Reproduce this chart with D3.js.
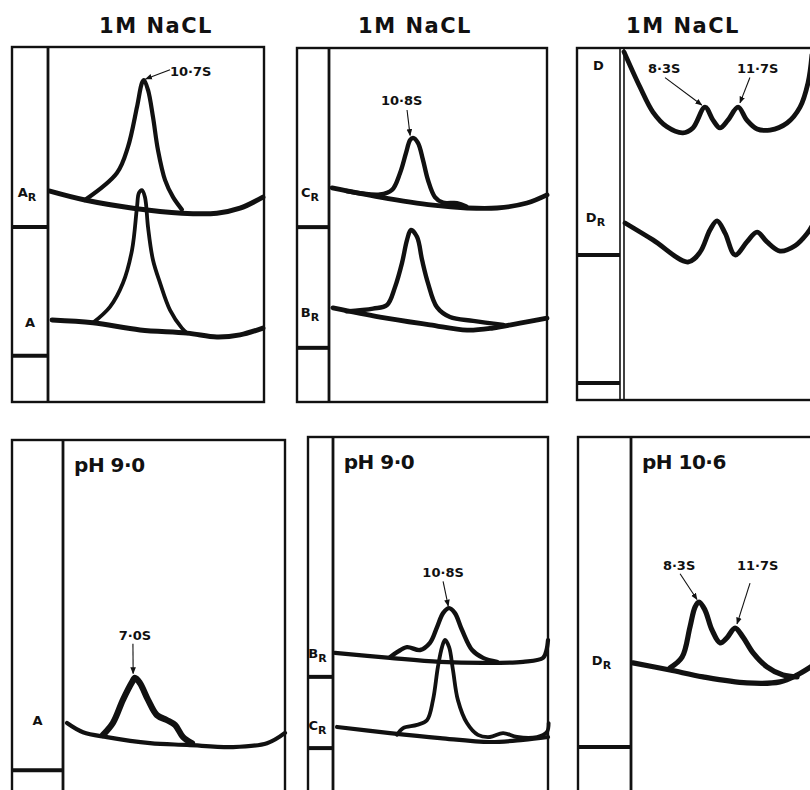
<!DOCTYPE html>
<html>
<head>
<meta charset="utf-8">
<script src="https://cdn.jsdelivr.net/npm/d3@7"></script>
<style>
  body { margin: 0; background: #fff; }
  svg { display: block; }
  text { font-family: "DejaVu Sans", sans-serif; font-weight: bold; fill: #111; }
</style>
</head>
<body>
<script>
// sedimentation patterns, x = % along the cell, y = % of frame height

const topTitles = ['1M NaCL', '1M NaCL', '1M NaCL']
const topTitleX = [156, 415, 683]
const bottomTitles = ['pH 9·0', 'pH 9·0', 'pH 10·6']

// panel 1 : A_R and A
const p1BaseAR = [[0.9,59.4],[17.1,56.9],[39.4,54.6],[62,53.2],[78.2,53.2],[88.9,54.6],[99.5,57.7]]
const p1PeakAR = [[17.1,56.9],[31.9,64.5],[37,71.8],[41.2,83.1],[43.5,89.9],[44.4,90.7],[46.3,87.9],[48.6,80.3],[50.9,71],[54.2,62.5],[57.9,57.7],[62,54.2]]
const p1BaseA = [[1.9,23.1],[20.8,22.3],[42.6,20.3],[64.4,19.4],[78.2,18.3],[88.9,18.9],[99.5,20.8]]
const p1PeakA = [[20.8,22.3],[28.7,26.8],[34.7,33.5],[38.9,42.8],[41.2,54.9],[42.1,58.9],[43.5,59.7],[44.9,57.7],[46.3,49.3],[48.6,40],[51.9,33.5],[56.5,25.9],[62,20.8],[64.4,19.4]]

// panel 2 : C_R and B_R
const p2BaseCR = [[1.4,60.5],[23.4,57.9],[47.7,55.6],[63.3,54.8],[77.1,54.8],[90.8,56.2],[100,58.5]]
const p2PeakCR = [[8,59.6],[23.4,58.6],[28.9,59.9],[32.6,64.7],[35.3,70.3],[37.2,74],[38.5,74.6],[40.8,73.2],[43.1,68.4],[45.4,62.7],[48.6,57.9],[52.3,56.3],[58.7,56.2],[63,55.2]]
const p2BaseBR = [[1.8,26.6],[23.4,24],[46.3,21.8],[63.3,20.3],[75.2,20.9],[87.6,22.3],[100,23.7]]
const p2PeakBR = [[8,25.6],[20.2,26.4],[26.6,27.4],[30.3,32.5],[33.5,39.3],[35.8,45.8],[37.6,48.6],[40.4,46.6],[42.7,40.1],[45.4,33.6],[49.5,26.8],[55.5,24],[66.1,22.9],[80,21.8]]

// panel 3 : D and D_R
const p3CurveD = [[0,98.9],[7.4,88.9],[13.4,81.8],[19.9,77.6],[27.3,75.9],[31.9,77.3],[37.5,83.2],[41.2,79.5],[44.4,77.3],[48.1,79.5],[52.8,83.2],[56.9,79.5],[61.6,77],[67.6,76.7],[75.5,78.7],[81.5,83.2],[85.2,90.1],[87,98]]
const p3CurveDR = [[0.5,50.3],[13.4,45.5],[29.6,39.2],[35.2,42],[39.8,48.3],[43.1,50.9],[46.8,47.4],[51.4,41.2],[56.9,44.9],[61.6,47.7],[66.2,44.9],[72.2,42.3],[79.2,43.8],[84.7,47.2],[87,49.4]]

// panel 4 : A at pH 9.0
const p4BaseA = [[1.8,20.3],[9,17.7],[19.8,16.3],[39.2,14.6],[55.9,14.1],[76.6,13.5],[91.9,14.6],[100,17.5]]
const p4PeakA = [[18,16.9],[22.5,20.3],[27,26.8],[31.1,31.8],[32.4,33],[34.7,31.5],[38.3,26.8],[42.3,22.5],[46.8,21.1],[50.5,19.7],[54.1,16.3],[58.1,14.6]]

// panel 5 : B_R and C_R at pH 9.0
const p5BaseBR = [[0.9,39.7],[26.5,38.3],[49.8,37.2],[69.8,36.9],[88.4,37.2],[97.7,38.3],[99.3,40.5],[100,43.3]]
const p5PeakBR = [[26.5,38.5],[29.8,39.9],[34.4,41.3],[40.5,40.5],[45.1,42.5],[48.4,46.9],[51.2,50.8],[54,52.2],[56.7,50.8],[60,46.1],[64.7,40.5],[69.8,38.3],[76.3,37.2]]
const p5BaseCR = [[1.9,19],[26.5,17.3],[49.8,15.9],[73,14.8],[88.4,15.4],[100,16.2]]
const p5PeakCR = [[29.8,16.8],[32.6,18.7],[39.1,19.6],[43.7,20.9],[46.5,26.5],[48.8,35.8],[50.7,41.3],[52.1,43.3],[54,41.3],[55.8,34.9],[58.1,26.5],[62.3,20.1],[67.4,16.8],[73,16.2],[79.1,17.3],[85.6,16.2],[94.9,16.2],[99.5,17.6],[100.3,20.1]]

// panel 6 : D_R at pH 10.6
const p6BaseDR = [[0.9,36.9],[17.7,34.9],[32.7,33],[52.7,31.3],[67.7,31.6],[75.5,33.5],[82.3,36]]
const p6PeakDR = [[17.7,35.5],[23.2,38.5],[26.8,46.9],[29.1,52.5],[30.9,53.9],[33.6,51.7],[36.8,46.1],[40.5,42.5],[43.6,43.9],[47.3,46.6],[50.9,44.1],[55.5,39.7],[61.8,35.8],[69.1,33.5],[75.5,33]]

// cell labels in the side strip: [panel, main, sub, y]
const cellLabels = [
  [0,'A','R',57.7],[0,'A','',21.1],
  [1,'C','R',57.9],[1,'B','R',24],
  [2,'D','',93.8],[2,'D','R',50.6],
  [3,'A','',19.7],
  [4,'B','R',38.3],[4,'C','R',18.2],
  [5,'D','R',36.3]
]
// strip bars (y positions of the reference marks)
const stripBars = [[0,49.3],[0,13],[1,49.4],[1,15.3],[2,41.2],[2,4.8],[3,7],[4,33],[4,13.1],[5,13.4]]

// peak annotations: [panel, text, textX, textY, fromX, fromY, toX, toY]
const peakNotes = [
  [0,'10·7S',56.5,91.8,56.5,93.6,45.2,91],
  [1,'10·8S',33.3,83.9,35.8,82.5,37.2,75.3],
  [2,'8·3S',11.1,92.9,19,91.6,36,83.8],
  [2,'11·7S',52.3,92.9,58.3,91.6,53.7,84.4],
  [3,'7·0S',32.4,43.7,31.5,42.6,31.6,34.2],
  [4,'10·8S',51.2,60.9,51.2,59.7,53.6,52.8],
  [5,'8·3S',14.5,62.8,22.3,61.8,30,54.6],
  [5,'11·7S',48.2,62.8,54.1,59.2,48.2,47.8]
]

const traces = [
  [0,p1BaseAR,5],[0,p1PeakAR,4.2],[0,p1BaseA,5],[0,p1PeakA,3.8],
  [1,p2BaseCR,4.8],[1,p2PeakCR,4.4],[1,p2BaseBR,4.8],[1,p2PeakBR,4.4],
  [2,p3CurveD,4.8],[2,p3CurveDR,4.8],
  [3,p4BaseA,4.2],[3,p4PeakA,6.2],
  [4,p5BaseBR,4.2],[4,p5PeakBR,4.4],[4,p5BaseCR,4.2],[4,p5PeakCR,3.8],
  [5,p6BaseDR,5.2],[5,p6PeakDR,5.2]
]

// frame geometry
const frames = [
  {x0:12, x1:264, y0:47, y1:402, div:48, w:216},
  {x0:297, x1:547, y0:48, y1:402, div:329, w:218},
  {x0:577, x1:840, y0:48, y1:400, div:624, w:216, dbl:620},
  {x0:12, x1:285, y0:440, y1:795, div:63, w:222},
  {x0:308, x1:548, y0:437, y1:795, div:333, w:215},
  {x0:578, x1:851, y0:437, y1:795, div:631, w:220}
]

const svg = d3.select('body').append('svg').attr('width', 810).attr('height', 790)

svg.append('defs').append('marker')
  .attr('id', 'arr').attr('viewBox', '0 -4 10 8')
  .attr('refX', 9).attr('refY', 0)
  .attr('markerWidth', 7).attr('markerHeight', 6)
  .attr('markerUnits', 'userSpaceOnUse')
  .attr('orient', 'auto')
  .append('path').attr('d', 'M0,-4L10,0L0,4Z').attr('fill', '#111')

frames.forEach((f, i) => {
  f.x = d3.scaleLinear([0, 100], [f.div, f.div + f.w])
  f.y = d3.scaleLinear([0, 100], [f.y1, f.y0])
  let g = svg.append('g')
  f.g = g
  g.append('rect')
    .attr('x', f.x0).attr('y', f.y0)
    .attr('width', f.x1 - f.x0).attr('height', f.y1 - f.y0)
    .attr('fill', 'none').attr('stroke', '#111').attr('stroke-width', 2.4)
  g.append('line')
    .attr('x1', f.div).attr('x2', f.div).attr('y1', f.y0).attr('y2', f.y1)
    .attr('stroke', '#111').attr('stroke-width', f.dbl ? 1.6 : 2.8)
  if (f.dbl) {
    g.append('line')
      .attr('x1', f.dbl).attr('x2', f.dbl).attr('y1', f.y0).attr('y2', f.y1)
      .attr('stroke', '#111').attr('stroke-width', 1.6)
  }
})

// titles
topTitles.forEach((t, i) => {
  svg.append('text')
    .attr('x', topTitleX[i]).attr('y', 33)
    .attr('text-anchor', 'middle')
    .attr('font-size', 21).attr('letter-spacing', 1.5)
    .text(t)
})
bottomTitles.forEach((t, i) => {
  let f = frames[i + 3]
  f.g.append('text')
    .attr('x', f.x(5)).attr('y', f.y(91))
    .attr('font-size', 20).attr('letter-spacing', -0.5)
    .text(t)
})

stripBars.forEach(([p, v]) => {
  let f = frames[p]
  f.g.append('line')
    .attr('x1', f.x0).attr('x2', f.dbl || f.div)
    .attr('y1', f.y(v)).attr('y2', f.y(v))
    .attr('stroke', '#111').attr('stroke-width', 4)
})

cellLabels.forEach(([p, main, sub, v]) => {
  let f = frames[p]
  let right = f.dbl || f.div
  let t = f.g.append('text')
    .attr('x', (f.x0 + right) / 2 - (sub ? 3 : 0)).attr('y', f.y(v))
    .attr('text-anchor', 'middle').attr('font-size', 13)
  t.append('tspan').text(main)
  if (sub) t.append('tspan').attr('font-size', 11).attr('dy', 4).text(sub)
})

let line = d3.line().curve(d3.curveCatmullRom.alpha(0.5))

traces.forEach(([p, pts, sw]) => {
  let f = frames[p]
  f.g.append('path')
    .attr('d', line(pts.map(d => [f.x(d[0]), f.y(d[1])])))
    .attr('fill', 'none').attr('stroke', '#111')
    .attr('stroke-width', sw)
    .attr('stroke-linecap', 'round').attr('stroke-linejoin', 'round')
})

peakNotes.forEach(([p, txt, tx, ty, ax, ay, bx, by]) => {
  let f = frames[p]
  let left = !(p == 1 || p == 3 || p == 4)
  f.g.append('text')
    .attr('x', f.x(tx)).attr('y', f.y(ty))
    .attr('text-anchor', left ? 'start' : 'middle')
    .attr('font-size', 13)
    .text(txt)
  f.g.append('line')
    .attr('x1', f.x(ax)).attr('y1', f.y(ay))
    .attr('x2', f.x(bx)).attr('y2', f.y(by))
    .attr('stroke', '#111').attr('stroke-width', 1.1)
    .attr('marker-end', 'url(#arr)')
})
</script>
</body>
</html>
